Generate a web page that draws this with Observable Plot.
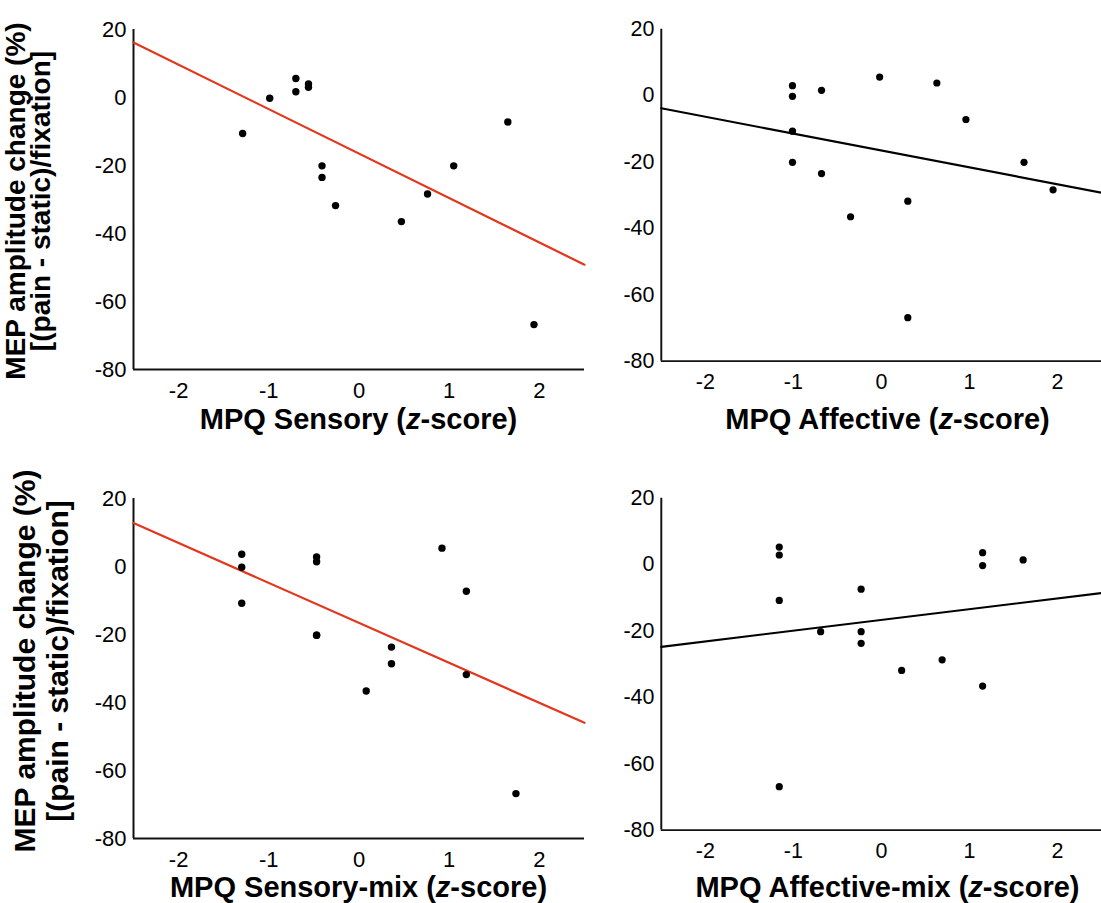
<!DOCTYPE html>
<html>
<head>
<meta charset="utf-8">
<script src="https://cdn.jsdelivr.net/npm/d3@7"></script>
<script src="https://cdn.jsdelivr.net/npm/@observablehq/plot@0.6"></script>
<style>
html, body { margin: 0; padding: 0; overflow: hidden; background: #fff; width: 1101px; height: 903px; }
#root { position: relative; width: 1101px; height: 903px; overflow: hidden; font-family: "Liberation Sans", Arial, sans-serif; color: #000; }
.panel { position: absolute; }
.xt { position: absolute; width: 600px; text-align: center; font-weight: bold; font-size: 29px; line-height: 29px; white-space: nowrap; }
.yt { position: absolute; width: 500px; text-align: center; font-weight: bold; white-space: nowrap; transform: rotate(-90deg); }
</style>
</head>
<body>
<div id="root"></div>
<script>
// ---------- data ----------
const xTicks = [-2, -1, 0, 1, 2];
const yTicks = [20, 0, -20, -40, -60, -80];
const xDomain = [-2.5, 2.5];
const yDomain = [-80, 20];

const yTitleLine1 = "MEP amplitude change (%)";
const yTitleLine2 = "[(pain - static)/fixation]";

const sensoryX = [-1.29, -0.99, -0.70, -0.70, -0.56, -0.56, -0.41, -0.41, -0.26, 0.47, 0.76, 1.05, 1.65, 1.94];
const sensoryY = [-10.6, -0.2, 5.6, 1.7, 4.0, 3.0, -20.1, -23.5, -31.8, -36.5, -28.4, -20.1, -7.2, -66.8];

const affectiveX = [-1.01, -1.01, -1.01, -1.01, -0.68, -0.68, -0.35, -0.02, 0.30, 0.30, 0.63, 0.96, 1.62, 1.95];
const affectiveY = [3.0, -0.2, -10.7, -20.1, 1.6, -23.5, -36.5, 5.6, -31.8, -66.9, 3.8, -7.2, -20.1, -28.4];

const sensoryMixX = [-1.30, -1.30, -1.30, -0.47, -0.47, -0.47, -0.47, 0.08, 0.36, 0.36, 0.92, 1.19, 1.19, 1.74];
const sensoryMixY = [3.6, -0.2, -10.8, 2.8, 1.4, -20.2, -20.2, -36.6, -23.7, -28.6, 5.4, -7.3, -31.8, -66.8];

const affectiveMixX = [-1.16, -1.16, -1.16, -1.16, -0.69, -0.23, -0.23, -0.23, 0.23, 0.69, 1.15, 1.15, 1.15, 1.61];
const affectiveMixY = [5.3, 2.9, -10.8, -66.9, -20.2, -7.4, -20.2, -23.7, -31.9, -28.7, 3.6, -0.3, -36.6, 1.4];

const panelTitles = ["MPQ Sensory", "MPQ Affective", "MPQ Sensory-mix", "MPQ Affective-mix"];
const lineColors = ["#e4351d", "#000000", "#e4351d", "#000000"];

// ---------- layout ----------
const PW = 451, PH = 340, ML = 50, MT = 10, MB = 42;
const layout = [
  {left: 133, top: 29, titleBase: 430},
  {left: 662, top: 29, titleBase: 430},
  {left: 133, top: 498, titleBase: 898},
  {left: 662, top: 498, titleBase: 898}
];
const series = [
  [sensoryX, sensoryY],
  [affectiveX, affectiveY],
  [sensoryMixX, sensoryMixY],
  [affectiveMixX, affectiveMixY]
];

function regression(xs, ys) {
  const mx = d3.mean(xs), my = d3.mean(ys);
  const b = d3.sum(xs, (x, i) => (x - mx) * (ys[i] - my)) / d3.sum(xs, x => (x - mx) ** 2);
  return x => my + b * (x - mx);
}

const root = document.getElementById("root");

series.forEach(([xs, ys], k) => {
  const L = layout[k];
  const f = regression(xs, ys);
  const pts = xs.map((x, i) => ({x, y: ys[i]}));
  const fit = xDomain.map(x => ({x, y: f(x)}));
  const chart = Plot.plot({
    width: ML + PW,
    height: MT + PH + MB,
    marginLeft: ML, marginRight: 0, marginTop: MT, marginBottom: MB,
    x: {domain: xDomain},
    y: {domain: yDomain},
    style: {fontFamily: '"Liberation Sans", Arial, sans-serif', fontSize: "22px", color: "#000", background: "transparent", overflow: "visible"},
    marks: [
      Plot.axisX({ticks: xTicks, tickSize: 0, tickPadding: 13, tickFormat: d => String(d), label: null}),
      Plot.axisY({ticks: yTicks, tickSize: 0, tickPadding: 7, tickFormat: d => String(d), label: null}),
      Plot.ruleX([xDomain[0]], {stroke: "#111", strokeWidth: 2}),
      Plot.ruleY([yDomain[0]], {stroke: "#111", strokeWidth: 2}),
      Plot.line(fit, {x: "x", y: "y", stroke: lineColors[k], strokeWidth: 2.2}),
      Plot.dot(pts, {x: "x", y: "y", r: 3.7, fill: "#000", stroke: "none"})
    ]
  });
  const wrap = document.createElement("div");
  wrap.className = "panel";
  wrap.style.left = (L.left - ML) + "px";
  wrap.style.top = (L.top - MT) + "px";
  wrap.appendChild(chart);
  root.appendChild(wrap);

  const xt = document.createElement("div");
  xt.className = "xt";
  xt.style.left = (L.left + PW / 2 - 300) + "px";
  xt.style.top = (L.titleBase - 0.8465 * 29) + "px";
  xt.innerHTML = panelTitles[k] + " (<i>z</i>-score)";
  root.appendChild(xt);
});

// y titles (left column)
const yTitles = [
  {cy: 201, fs: 28, cx1: 16, cx2: 41},
  {cy: 661, fs: 30, cx1: 25, cx2: 58}
];
yTitles.forEach(t => {
  [[yTitleLine1, t.cx1], [yTitleLine2, t.cx2]].forEach(([txt, cx]) => {
    const d = document.createElement("div");
    const lh = Math.round(t.fs * 0.8);
    d.className = "yt";
    d.style.fontSize = t.fs + "px";
    d.style.lineHeight = lh + "px";
    d.style.height = lh + "px";
    d.style.left = (cx - 250) + "px";
    d.style.top = (t.cy - lh / 2) + "px";
    d.textContent = txt;
    root.appendChild(d);
  });
});
</script>
</body>
</html>
